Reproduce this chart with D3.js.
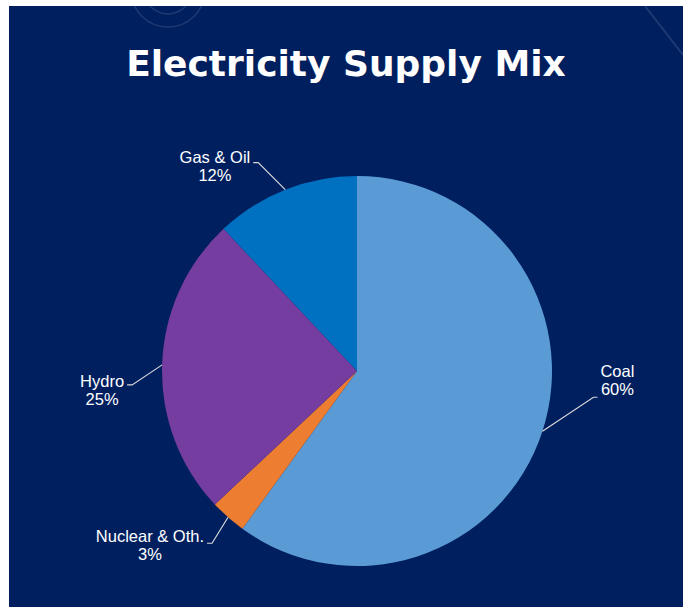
<!DOCTYPE html>
<html>
<head>
<meta charset="utf-8">
<script src="https://cdn.jsdelivr.net/npm/d3@7"></script>
<style>
  body { margin: 0; background: #fff; }
  svg { display: block; }
</style>
</head>
<body>
<svg width="683" height="607"></svg>
<script>
var width = 683, height = 607;

// data
var categories = ["Coal", "Nuclear & Oth.", "Hydro", "Gas & Oil"];
var shares = [60, 3, 25, 12];
var colors = ["#5B9BD5", "#ED7D31", "#763DA0", "#0070C0"];

// leader line elbow, relative to the slice edge point; base = first line baseline vs elbow
var labelLayout = [
    {dx: 51, dy: -34, base: -20},
    {dx: -16, dy: 26, base: -1},
    {dx: -30, dy: 20, base: 2},
    {dx: -27, dy: -27, base: 0}
];

var svg = d3.select("svg");

// navy panel
svg.append("rect")
    .attr("x", 9).attr("y", 6)
    .attr("width", width - 9).attr("height", height - 6)
    .attr("fill", "#001F5F");

// faint background decoration
var deco = svg.append("g")
    .attr("fill", "none")
    .attr("stroke", "rgba(255,255,255,0.12)")
    .attr("stroke-width", 1.5);
deco.append("circle").attr("cx", 168).attr("cy", -10).attr("r", 37);
deco.append("path").attr("d", d3.arc()({innerRadius: 24, outerRadius: 24, startAngle: Math.PI * 0.5, endAngle: Math.PI * 1.4}))
    .attr("transform", "translate(168,-10)");
deco.append("line").attr("x1", 645).attr("y1", 6).attr("x2", 683).attr("y2", 55)
    .attr("stroke-width", 2);

// title
svg.append("text")
    .attr("x", 346).attr("y", 76)
    .attr("text-anchor", "middle")
    .attr("fill", "#fff")
    .attr("font-family", "DejaVu Sans")
    .attr("font-weight", "bold")
    .attr("font-size", 36)
    .text("Electricity Supply Mix");

var cx = 357, cy = 371, r = 195;

var pie = d3.pie().sort(null).value(function (d) { return d; });
var arcs = pie(shares);
var arc = d3.arc().innerRadius(0).outerRadius(r);

var g = svg.append("g").attr("transform", "translate(" + cx + "," + cy + ")");

g.selectAll("path.slice")
    .data(arcs)
    .enter().append("path")
    .attr("class", "slice")
    .attr("d", arc)
    .attr("fill", function (d, i) { return colors[i]; });

// labels with leader lines
arcs.forEach(function (d, i) {
    var mid = (d.startAngle + d.endAngle) / 2;
    var ex = r * Math.sin(mid), ey = -r * Math.cos(mid);
    var lay = labelLayout[i];
    var bx = ex + lay.dx, by = ey + lay.dy;
    var right = bx > 0;
    var tickEnd = bx + (right ? 4 : -5);

    g.append("polyline")
        .attr("points", [[ex, ey], [bx, by], [tickEnd, by]].map(function (p) { return p.join(","); }).join(" "))
        .attr("fill", "none")
        .attr("stroke", "#D9D9D9")
        .attr("stroke-width", 1.2);

    var t = g.append("text")
        .attr("fill", "#fff")
        .attr("font-family", "Liberation Sans, Arial, sans-serif")
        .attr("font-size", 16.5)
        .attr("text-anchor", "middle");
    var lines = [categories[i], shares[i] + "%"];
    lines.forEach(function (s, k) {
        t.append("tspan").attr("x", 0).attr("y", k * 18).text(s);
    });
    var w = t.node().getBBox().width;
    var tx = right ? tickEnd + 3 + w / 2 : tickEnd - 3 - w / 2;
    t.attr("transform", "translate(" + tx + "," + (by + lay.base) + ")");
});
</script>
</body>
</html>
